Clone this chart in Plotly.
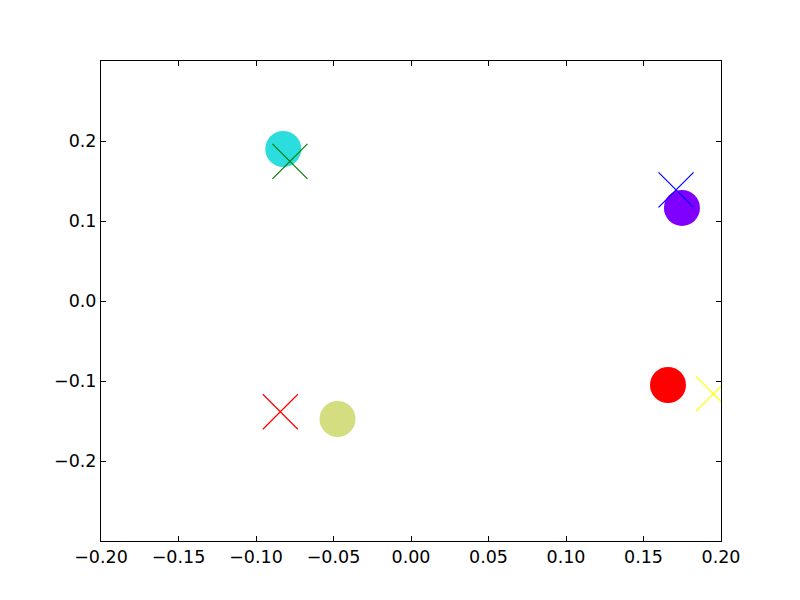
import plotly.graph_objects as go

# circle points
circle_x = [-0.0824, 0.1748, 0.1658, -0.0474]
circle_y = [0.190, 0.1163, -0.105, -0.1475]
circle_colors = ["#2CDDDD", "#8000FF", "#FF0000", "#D4DD80"]

# cross points
cross_x = [-0.0781, 0.1710, -0.0843, 0.1950]
cross_y = [0.1746, 0.1390, -0.1384, -0.1160]
cross_colors = ["green", "blue", "red", "yellow"]

x_ticks = [-0.20, -0.15, -0.10, -0.05, 0.00, 0.05, 0.10, 0.15, 0.20]
y_ticks = [-0.2, -0.1, 0.0, 0.1, 0.2]

fig = go.Figure()

fig.add_trace(go.Scatter(
    x=circle_x, y=circle_y, mode="markers",
    marker=dict(size=36, color=circle_colors, symbol="circle", line=dict(width=0)),
    showlegend=False,
))

for cx, cy, col in zip(cross_x, cross_y, cross_colors):
    fig.add_trace(go.Scatter(
        x=[cx], y=[cy], mode="markers",
        marker=dict(size=35, symbol="x-thin-open", color=col, line=dict(width=1.2, color=col)),
        showlegend=False,
    ))

axis_style = dict(
    showgrid=False, zeroline=False, showline=True, linecolor="black", linewidth=1,
    mirror="allticks", ticks="inside", ticklen=5, tickcolor="black",
    tickfont=dict(family="DejaVu Sans", size=17.5, color="black"),
)

fig.update_xaxes(range=[-0.2, 0.2], tickvals=x_ticks, tickformat=".2f", **axis_style)
fig.update_yaxes(range=[-0.3, 0.3], tickvals=y_ticks, tickformat=".1f", **axis_style)

# page body adds an 8px offset, so margins are shifted to compensate
fig.update_layout(
    width=800, height=600,
    margin=dict(l=93, r=87, t=53, b=67),
    plot_bgcolor="white", paper_bgcolor="white",
)

fig.write_html("out.html")
